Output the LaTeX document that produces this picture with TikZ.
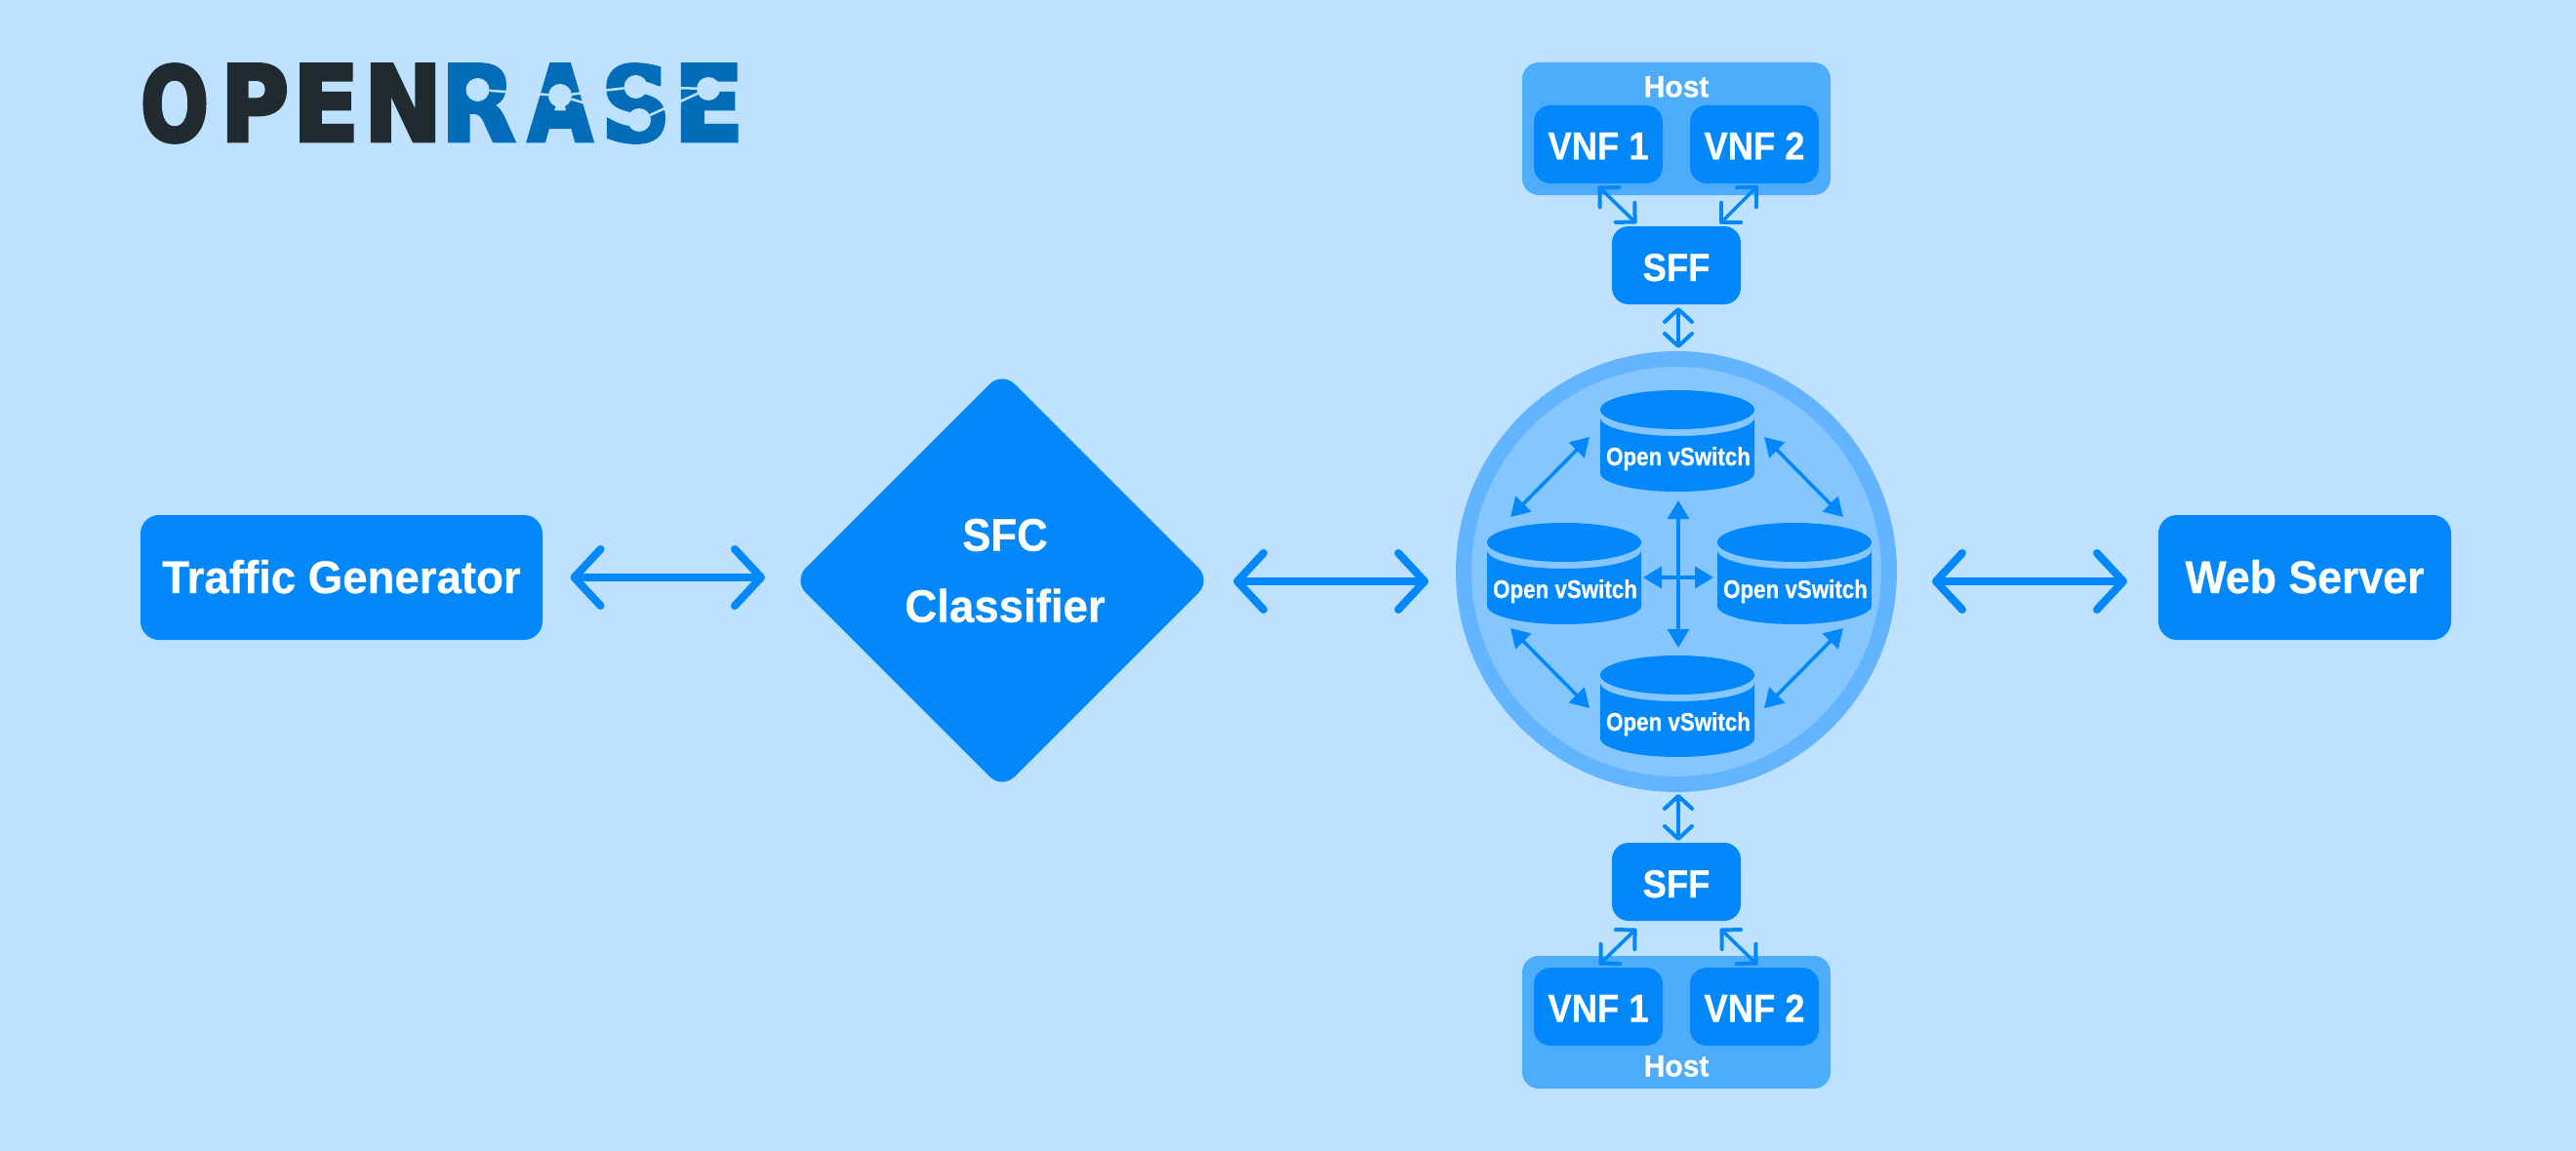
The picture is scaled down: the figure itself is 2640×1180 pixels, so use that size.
\documentclass[tikz,border=0pt]{standalone}
\usepackage{fontspec}
\usepackage{graphicx}
\setmainfont{Liberation Sans}[BoldFeatures={FakeBold=0.6}]
\newfontfamily\logofont{DejaVu Sans}[BoldFeatures={FakeBold=4}]
\usetikzlibrary{arrows.meta,calc,shapes.geometric}
\definecolor{bgblue}{HTML}{BDE1FE}
\definecolor{mainblue}{HTML}{0288FB}
\definecolor{hostblue}{HTML}{4DACFC}
\definecolor{ringblue}{HTML}{62B4FE}
\definecolor{innerblue}{HTML}{86C6FF}
\definecolor{logodark}{HTML}{212A2E}
\definecolor{logoblue}{HTML}{036DBA}
\newcommand{\xs}[2]{\scalebox{#1}[1]{#2}}
\newcommand{\logoltr}[3]{\resizebox{#1pt}{78pt}{\textcolor{#2}{#3}}}
\tikzset{
  boxnode/.style={fill=mainblue,text=white,rounded corners=19pt,inner sep=0pt,outer sep=0pt,align=center},
  bigbox/.style={boxnode,minimum height=128pt,text height=32pt,text depth=0pt,font=\fontsize{47}{56}\selectfont\bfseries},
  smallbox/.style={boxnode,minimum width=132pt,minimum height=80pt,text depth=0pt,rounded corners=17pt,font=\fontsize{40}{48}\selectfont\bfseries},
  hostbox/.style={fill=hostblue,rounded corners=17pt,inner sep=0pt,outer sep=0pt,minimum width=316pt,minimum height=136pt},
  hosttext/.style={text=white,inner sep=0pt,text height=23pt,text depth=0pt,font=\fontsize{31}{36}\selectfont\bfseries},
  cylshape/.style={inner sep=0pt,outer sep=0pt,minimum width=158pt,minimum height=104pt},
  cyltext/.style={text=white,inner sep=0pt,text height=18pt,text depth=0pt,font=\fontsize{26}{30}\selectfont\bfseries},
  bigarrow/.style={draw=mainblue,line width=8pt,{Straight Barb[length=27pt,width=58pt,round,line width=8pt]}-{Straight Barb[length=27pt,width=58pt,round,line width=8pt]}},
  midarrow/.style={draw=mainblue,line width=3.5pt,{Straight Barb[length=13pt,width=28pt,round,line width=4pt]}-{Straight Barb[length=13pt,width=28pt,round,line width=4pt]}},
  diagarrow/.style={draw=mainblue,line width=3.5pt,{Straight Barb[length=14pt,width=28pt,round,line width=4pt]}-{Straight Barb[length=14pt,width=28pt,round,line width=4pt]}},
  fillarrow/.style={draw=mainblue,line width=3.5pt,{Triangle[length=19pt,width=22pt,fill=mainblue]}-{Triangle[length=19pt,width=22pt,fill=mainblue]}},
  logodot/.style={circle,fill=bgblue,inner sep=0pt,outer sep=0pt,minimum size=24pt},
  logoline/.style={draw=bgblue,line width=2.5pt}
}
\newcommand{\ovsnode}[2]{%
  \node[cylshape] (#1) at (#2) {};
  \fill[mainblue] ($(#1.center)+(-79,-24)$) arc[start angle=180,end angle=0,x radius=79,y radius=19]
     -- ($(#1.center)+(79,33)$) arc[start angle=0,end angle=180,x radius=79,y radius=19] -- cycle;
  \fill[mainblue] ($(#1.center)+(0,-32)$) ellipse[x radius=79,y radius=20];
  \node[cyltext] (#1text) at ($(#1.center)+(1,16)$) {\xs{0.86}{Open vSwitch}};
}
\begin{document}
\begin{tikzpicture}[x=1pt,y=-1pt]
\useasboundingbox (0,0) rectangle (2640,1180);
\fill[bgblue] (0,0) rectangle (2640,1180);

% logo
\node[inner sep=0pt,outer sep=0pt,anchor=west] (logo) at (144,106) {\logofont\bfseries\logoltr{70}{logodark}{O}\kern12pt\logoltr{70}{logodark}{P}\kern4pt\logoltr{68}{logodark}{E}\kern5pt\logoltr{80}{logodark}{N}\kern-1pt\logoltr{76}{logoblue}{R}\kern13pt\logoltr{66}{logoblue}{A}\kern9pt\logoltr{71}{logoblue}{S}\kern3pt\logoltr{72}{logoblue}{E}};
\node[logodot] (d1) at (489.5,92) {};
\node[logodot] (d2) at (574,98) {};
\node[logodot] (d3) at (651.6,89) {};
\node[logodot] (d4) at (655,123) {};
\node[logodot] (d5) at (726,91) {};
\draw[logoline] (d1) -- (d2);
\draw[logoline] (d2) -- (d3);
\draw[logoline] (d2) -- (d4);
\draw[logoline] (d3) -- (d5);
\draw[logoline] (d4) -- (d5);

% main row
\node[bigbox,minimum width=412pt] (tg) at (350,592) {\xs{0.97}{Traffic Generator}};
\node[diamond,fill=mainblue,rounded corners=18pt,inner sep=0pt,outer sep=0pt,minimum width=428pt,minimum height=428pt] (sfc) at (1027,595) {};
\node[text=white,align=center,inner sep=0pt,font=\fontsize{47}{73}\selectfont\bfseries] (sfctext) at (1030,585) {\xs{0.93}{SFC}\\\xs{0.97}{Classifier}};
\node[bigbox,minimum width=300pt] (ws) at (2362,592) {\xs{0.95}{Web Server}};

% network circle
\node[circle,fill=innerblue,draw=ringblue,line width=16pt,inner sep=0pt,outer sep=0pt,minimum size=436pt] (net) at (1718,586) {};
\ovsnode{ovsT}{1719,452}
\ovsnode{ovsL}{1603,588}
\ovsnode{ovsR}{1839,588}
\ovsnode{ovsB}{1719,724}

\draw[fillarrow] ($(ovsT.west)+(-11,-4)$) -- ($(ovsL.north)+(-55,-6)$);
\draw[fillarrow] ($(ovsT.east)+(10,-4)$) -- ($(ovsR.north)+(50,-6)$);
\draw[fillarrow] ($(ovsL.south)+(-55,4)$) -- ($(ovsB.west)+(-11,2)$);
\draw[fillarrow] ($(ovsR.south)+(50,4)$) -- ($(ovsB.east)+(10,2)$);
\draw[fillarrow] ($(ovsT.south)+(1,9)$) -- ($(ovsB.north)+(1,-8)$);
\draw[fillarrow] ($(ovsL.east)+(2,4)$) -- ($(ovsR.west)+(-4,4)$);

% top host
\node[hostbox] (host1) at (1718,132) {};
\node[hosttext] (host1text) at (1718,88) {\xs{0.97}{Host}};
\node[smallbox,text height=31pt] (vnf1) at (1638,148) {\xs{0.91}{VNF 1}};
\node[smallbox,text height=31pt] (vnf2) at (1798,148) {\xs{0.91}{VNF 2}};
\node[smallbox,text height=32pt] (sff1) at (1718,272) {\xs{0.91}{SFF}};

% bottom host
\node[hostbox] (host2) at (1718,1048) {};
\node[hosttext] (host2text) at (1718,1092) {\xs{0.97}{Host}};
\node[smallbox,text height=31pt] (vnf3) at (1638,1032) {\xs{0.91}{VNF 1}};
\node[smallbox,text height=31pt] (vnf4) at (1798,1032) {\xs{0.91}{VNF 2}};
\node[smallbox,text height=32pt] (sff2) at (1718,904) {\xs{0.91}{SFF}};

% connectors
\draw[bigarrow] ($(tg.east)+(28.5,0)$) -- ($(sfc.west)+(-29,-3)$);
\draw[bigarrow] ($(sfc.east)+(23,1)$) -- ($(net.west)+(-36,10)$);
\draw[bigarrow] ($(net.east)+(44,10)$) -- ($(ws.west)+(-32,4)$);
\draw[midarrow] ($(sff1.south)+(2,3)$) -- ($(net.north)+(2,-11)$);
\draw[midarrow] ($(net.south)+(2,10)$) -- ($(sff2.north)+(2,-2)$);
\draw[diagarrow] ($(vnf1.south)+(0,3)$) -- ($(sff1.north west)+(25,-3)$);
\draw[diagarrow] ($(vnf2.south)+(3,3)$) -- ($(sff1.north east)+(-21,-3)$);
\draw[diagarrow] ($(sff2.south west)+(25,8)$) -- ($(vnf3.north)+(1,-3)$);
\draw[diagarrow] ($(sff2.south east)+(-21,8)$) -- ($(vnf4.north)+(3,-3)$);
\end{tikzpicture}
\end{document}
